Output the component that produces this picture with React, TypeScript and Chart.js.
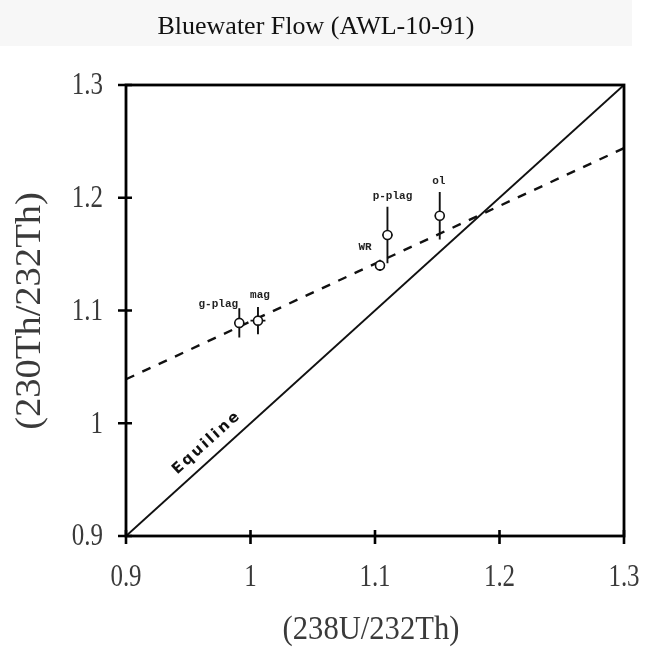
import React, { useEffect, useRef } from "react";
import { Chart, registerables } from "chart.js";

Chart.register(...registerables);

// ---- data ----
const chartTitle = "Bluewater Flow (AWL-10-91)";
const xAxisTitle = "(238U/232Th)";
const yAxisTitle = "(230Th/232Th)";
const tickValues = [0.9, 1.0, 1.1, 1.2, 1.3];
const tickLabels = ["0.9", "1", "1.1", "1.2", "1.3"];

const sampleNames = ["g-plag", "mag", "WR", "p-plag", "ol"];
const uThRatio = [0.991, 1.006, 1.104, 1.11, 1.152];
const thThRatio = [1.089, 1.091, 1.14, 1.167, 1.184];
const uThErr = [0.004, 0.006, 0.004, 0.004, 0.004];
const thThErr = [0.013, 0.012, 0.005, 0.025, 0.021];

const equilineX = [0.9, 1.3];
const equilineY = [0.9, 1.3];
const isochronX = [0.9, 1.3];
const isochronY = [1.039, 1.244];
const equilineLabel = "Equiline";

// label offsets (px) relative to each sample point
const labelOffsets: Record<string, [number, number]> = {
  "g-plag": [-21, -19],
  mag: [2, -25],
  WR: [-15, -18],
  "p-plag": [5, -39],
  ol: [-1, -35],
};

const AXIS_FONT = "'Liberation Serif', 'Times New Roman', serif";

function drawScaledText(ctx: any, text: string, x: number, y: number, sx: number, align: string) {
  ctx.save();
  ctx.translate(x, y);
  ctx.scale(sx, 1);
  ctx.textAlign = align;
  ctx.fillText(text, 0, 0);
  ctx.restore();
}

const overlayPlugin = {
  id: "overlay",
  beforeDatasetDraw(chart: any, args: any) {
    if (args.index !== 0) return;
    const ctx = chart.ctx;
    const xs = chart.scales.x;
    const ys = chart.scales.y;
    ctx.save();
    ctx.strokeStyle = "#111";
    ctx.lineWidth = 1.9;
    for (let i = 0; i < uThRatio.length; i++) {
      const px = xs.getPixelForValue(uThRatio[i]);
      const py = ys.getPixelForValue(thThRatio[i]);
      const y0 = ys.getPixelForValue(thThRatio[i] - thThErr[i]);
      const y1 = ys.getPixelForValue(thThRatio[i] + thThErr[i]);
      const x0 = xs.getPixelForValue(uThRatio[i] - uThErr[i]);
      const x1 = xs.getPixelForValue(uThRatio[i] + uThErr[i]);
      ctx.beginPath();
      ctx.moveTo(px, y0);
      ctx.lineTo(px, y1);
      ctx.moveTo(x0, py);
      ctx.lineTo(x1, py);
      ctx.stroke();
    }
    ctx.restore();
  },
  afterDraw(chart: any) {
    const ctx = chart.ctx;
    const xs = chart.scales.x;
    const ys = chart.scales.y;
    const { left, right, top, bottom } = chart.chartArea;
    ctx.save();

    // frame
    ctx.strokeStyle = "#000";
    ctx.lineWidth = 2.8;
    ctx.strokeRect(left, top, right - left, bottom - top);

    // tick marks crossing the axes
    ctx.lineWidth = 2.6;
    ctx.beginPath();
    tickValues.forEach((v) => {
      const px = xs.getPixelForValue(v);
      ctx.moveTo(px, bottom - 6);
      ctx.lineTo(px, bottom + 8);
      const py = ys.getPixelForValue(v);
      ctx.moveTo(left - 8, py);
      ctx.lineTo(left + 6, py);
    });
    ctx.stroke();

    // tick labels
    ctx.fillStyle = "#3a3a3a";
    ctx.font = `32px ${AXIS_FONT}`;
    ctx.textBaseline = "middle";
    tickValues.forEach((v, i) => {
      const px = xs.getPixelForValue(v);
      drawScaledText(ctx, tickLabels[i], px, bottom + 42, 0.78, "center");
      const py = ys.getPixelForValue(v);
      drawScaledText(ctx, tickLabels[i], left - 23, py + 1, 0.78, "right");
    });

    // title
    ctx.fillStyle = "#111";
    ctx.font = `26px ${AXIS_FONT}`;
    ctx.textAlign = "center";
    ctx.textBaseline = "middle";
    ctx.fillText(chartTitle, 316, 27);

    // axis titles
    ctx.fillStyle = "#3a3a3a";
    ctx.font = `34px ${AXIS_FONT}`;
    drawScaledText(ctx, xAxisTitle, 371, 630, 0.9, "center");
    ctx.save();
    ctx.translate(31, 311);
    ctx.rotate(-Math.PI / 2);
    ctx.font = `36px ${AXIS_FONT}`;
    drawScaledText(ctx, yAxisTitle, 0, 0, 1.07, "center");
    ctx.restore();

    // sample labels
    ctx.fillStyle = "#222";
    ctx.font = "bold 11px 'Liberation Mono', monospace";
    ctx.textAlign = "center";
    sampleNames.forEach((name, i) => {
      const px = xs.getPixelForValue(uThRatio[i]);
      const py = ys.getPixelForValue(thThRatio[i]);
      const off = labelOffsets[name];
      ctx.fillText(name, px + off[0], py + off[1]);
    });

    // Equiline label
    const ax = xs.getPixelForValue(0.947);
    const ay = ys.getPixelForValue(0.947);
    const bx = xs.getPixelForValue(1.3);
    const by = ys.getPixelForValue(1.3);
    const ang = Math.atan2(by - ay, bx - ax);
    ctx.save();
    ctx.translate(ax, ay);
    ctx.rotate(ang);
    ctx.font = "bold 15px 'DejaVu Sans', sans-serif";
    (ctx as any).letterSpacing = "2.4px";
    ctx.fillStyle = "#111";
    ctx.textAlign = "left";
    ctx.textBaseline = "alphabetic";
    ctx.fillText(equilineLabel, 0, -11);
    ctx.restore();

    ctx.restore();
  },
};

export default function App() {
  const ref = useRef<HTMLCanvasElement>(null);

  useEffect(() => {
    if (!ref.current) return;
    const points = uThRatio.map((x, i) => ({ x, y: thThRatio[i] }));
    const equiline = equilineX.map((x, i) => ({ x, y: equilineY[i] }));
    const isochron = isochronX.map((x, i) => ({ x, y: isochronY[i] }));

    const chart = new Chart(ref.current, {
      type: "scatter",
      data: {
        datasets: [
          {
            label: "samples",
            data: points,
            pointStyle: "circle",
            pointRadius: 4.5,
            pointBackgroundColor: "#fff",
            pointBorderColor: "#111",
            pointBorderWidth: 1.6,
            showLine: false,
            order: 0,
          },
          {
            label: "isochron",
            data: isochron,
            showLine: true,
            borderColor: "#111",
            borderWidth: 2.4,
            borderDash: [9, 9],
            pointRadius: 0,
            order: 1,
          },
          {
            label: "equiline",
            data: equiline,
            showLine: true,
            borderColor: "#111",
            borderWidth: 2,
            pointRadius: 0,
            order: 2,
          },
        ],
      },
      options: {
        animation: false,
        responsive: false,
        maintainAspectRatio: false,
        events: [],
        layout: { padding: { left: 0, top: 85, right: 30, bottom: 0 } },
        plugins: {
          legend: { display: false },
          tooltip: { enabled: false },
          title: { display: false },
        },
        scales: {
          x: {
            type: "linear",
            min: 0.9,
            max: 1.3,
            grid: { display: false, drawTicks: false },
            border: { display: false },
            ticks: { display: false },
            afterBuildTicks: (scale: any) => {
              scale.ticks = tickValues.map((v) => ({ value: v }));
            },
            afterFit: (scale: any) => {
              scale.height = 114;
              scale.paddingLeft = 0;
              scale.paddingRight = 0;
            },
          },
          y: {
            type: "linear",
            min: 0.9,
            max: 1.3,
            grid: { display: false, drawTicks: false },
            border: { display: false },
            ticks: { display: false },
            afterBuildTicks: (scale: any) => {
              scale.ticks = tickValues.map((v) => ({ value: v }));
            },
            afterFit: (scale: any) => {
              scale.width = 126;
              scale.paddingTop = 0;
              scale.paddingBottom = 0;
            },
          },
        },
      },
      plugins: [overlayPlugin],
    });
    return () => chart.destroy();
  }, []);

  return (
    <div style={{ position: "fixed", left: 0, top: 0, width: 654, height: 650, background: "#fff" }}>
      <div style={{ position: "absolute", left: 0, top: 0, width: 632, height: 46, background: "#f7f7f7" }} />
      <canvas ref={ref} width={654} height={650} style={{ position: "absolute", left: 0, top: 0, width: 654, height: 650 }} />
    </div>
  );
}
